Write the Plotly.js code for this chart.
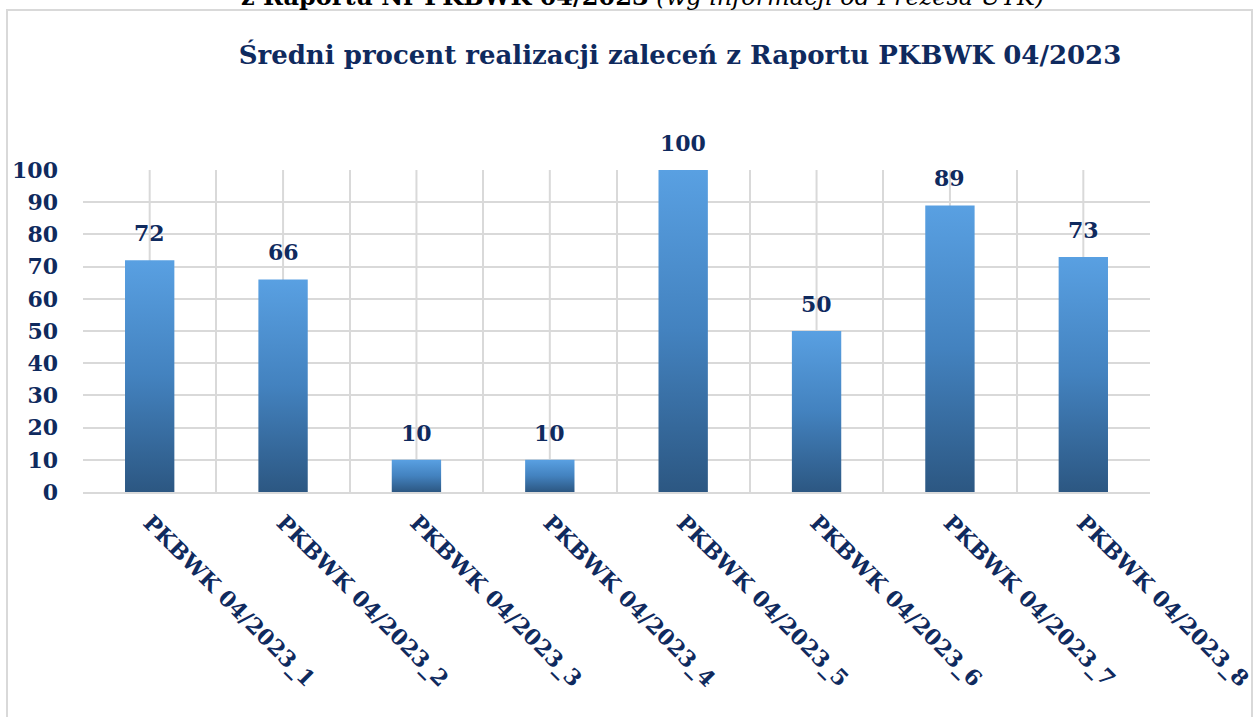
<!DOCTYPE html>
<html>
<head>
<meta charset="utf-8">
<script src="https://cdn.plot.ly/plotly-3.0.1.min.js"></script>
<style>html,body{margin:0;padding:0;background:#fff;}#chart{width:1256px;height:717px;}</style>
</head>
<body>
<div id="chart"></div>
<script>
// ---- data ----
var categories = ["PKBWK 04/2023_1","PKBWK 04/2023_2","PKBWK 04/2023_3","PKBWK 04/2023_4",
                  "PKBWK 04/2023_5","PKBWK 04/2023_6","PKBWK 04/2023_7","PKBWK 04/2023_8"];
var values = [72, 66, 10, 10, 100, 50, 89, 73];
var yTickValues = [0,10,20,30,40,50,60,70,80,90,100];
var titleText = "Średni procent realizacji zaleceń z Raportu PKBWK 04/2023";
var headerText = "<b>z Raportu Nr PKBWK 04/2023</b> <i>(wg informacji od Prezesa UTK)</i>";

// ---- style ----
var NAVY = "#0F2A5E";
var GRID = "#D9D9D9";
var FONT = "DejaVu Serif";
var W = 1256, H = 717;
var M = {l: 83, r: 106, t: 170, b: 225};
var pw = W - M.l - M.r, ph = H - M.t - M.b;
function px2paperX(p){ return (p - M.l) / pw; }
function px2paperY(p){ return (H - M.b - p) / ph; }

var trace = {
  type: "bar",
  x: categories,
  y: values,
  width: 0.37,
  marker: {color: "#4A8ACB", line: {width: 0}},
  hoverinfo: "x+y"
};

var shapes = [];
// center gridlines (between boundary gridlines)
categories.forEach(function(c){
  shapes.push({type: "line", xref: "x", yref: "paper", x0: c, x1: c, y0: 0, y1: 1,
               line: {color: GRID, width: 2}, layer: "below"});
});
// outer frame
shapes.push({type: "rect", xref: "paper", yref: "paper",
             x0: px2paperX(7), x1: px2paperX(1252), y0: px2paperY(740), y1: px2paperY(10),
             line: {color: GRID, width: 2}, fillcolor: "rgba(0,0,0,0)", layer: "below"});

var annotations = values.map(function(v, i){
  return {x: categories[i], y: v, xref: "x", yref: "y", text: String(v), showarrow: false,
          yanchor: "middle", yshift: 27,
          font: {family: FONT, size: 22, color: NAVY, weight: 700}};
});
annotations.push({xref: "paper", yref: "paper", x: px2paperX(642), y: px2paperY(-4),
                  xanchor: "center", yanchor: "middle", showarrow: false, text: headerText,
                  font: {family: FONT, size: 24, color: "#000000"}});

var layout = {
  width: W, height: H,
  margin: M,
  paper_bgcolor: "#ffffff",
  plot_bgcolor: "#ffffff",
  showlegend: false,
  title: {text: "<b>" + titleText + "</b>", xref: "container", yref: "container",
          x: 680 / W, y: 1 - 55 / H, xanchor: "center", yanchor: "middle",
          font: {family: FONT, size: 26, color: NAVY}},
  xaxis: {
    type: "category",
    tickson: "boundaries",
    showgrid: true, gridcolor: GRID, gridwidth: 2,
    showline: true, linecolor: GRID, linewidth: 2,
    ticks: "", tickangle: 45, ticklabelstandoff: 7,
    tickfont: {family: FONT, size: 22, color: NAVY, weight: 700},
    range: [-0.5, 7.5]
  },
  yaxis: {
    range: [0, 100],
    tickvals: yTickValues,
    showgrid: true, gridcolor: GRID, gridwidth: 2,
    zeroline: false, showline: false,
    ticks: "", ticklabelstandoff: 24,
    tickfont: {family: FONT, size: 22, color: NAVY, weight: 700}
  },
  shapes: shapes,
  annotations: annotations
};

function applyGradient(gd){
  var svg = gd.querySelector(".main-svg");
  if(!svg) return;
  var ns = "http://www.w3.org/2000/svg";
  var defs = svg.querySelector("defs");
  if(!defs){ defs = document.createElementNS(ns, "defs"); svg.insertBefore(defs, svg.firstChild); }
  if(!svg.querySelector("#barGrad")){
    var lg = document.createElementNS(ns, "linearGradient");
    lg.setAttribute("id", "barGrad");
    lg.setAttribute("x1", "0"); lg.setAttribute("y1", "0");
    lg.setAttribute("x2", "0"); lg.setAttribute("y2", "1");
    [["0%", "#59A0E2"], ["50%", "#4382BF"], ["100%", "#2C5782"]].forEach(function(s){
      var st = document.createElementNS(ns, "stop");
      st.setAttribute("offset", s[0]); st.setAttribute("stop-color", s[1]);
      lg.appendChild(st);
    });
    defs.appendChild(lg);
  }
  gd.querySelectorAll(".barlayer .point path").forEach(function(p){
    p.style.fill = "url(#barGrad)";
  });
}

var gd = document.getElementById("chart");
Plotly.newPlot(gd, [trace], layout, {displayModeBar: false, staticPlot: true}).then(function(){
  applyGradient(gd);
  gd.on("plotly_afterplot", function(){ applyGradient(gd); });
});
</script>
</body>
</html>
